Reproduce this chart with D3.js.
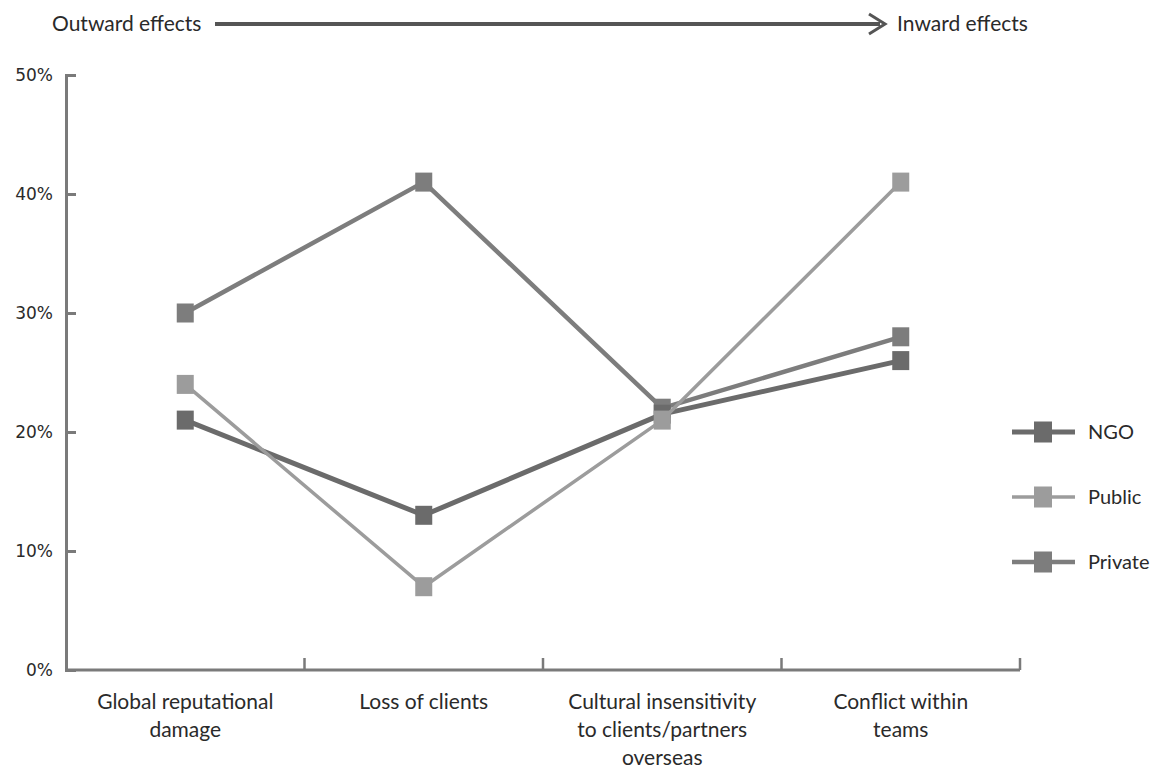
<!DOCTYPE html>
<html>
<head>
<meta charset="utf-8">
<script src="https://cdn.jsdelivr.net/npm/d3@7"></script>
<style>
  body { margin: 0; background: #fff; }
  svg { display: block; }
</style>
</head>
<body>
<div id="chart"></div>
<script>
const categories = [
  ["Global reputational", "damage"],
  ["Loss of clients"],
  ["Cultural insensitivity", "to clients/partners", "overseas"],
  ["Conflict within", "teams"],
];
const yTicks = [0, 10, 20, 30, 40, 50];
const ngoValues = [21, 13, 21.5, 26];
const publicValues = [24, 7, 21, 41];
const privateValues = [30, 41, 22, 28];

const seriesList = [
  { name: "NGO", values: ngoValues, color: "#6b6b6b", width: 5 },
  { name: "Public", values: publicValues, color: "#9c9c9c", width: 3.5 },
  { name: "Private", values: privateValues, color: "#7d7d7d", width: 4.5 },
];

const width = 1158, height = 768;
const textColor = "#2a2a2a";
const svg = d3.select("#chart").append("svg")
  .attr("width", width).attr("height", height);

const x = d3.scaleBand().domain(d3.range(categories.length)).range([66, 1020]);
const y = d3.scaleLinear().domain([0, 50]).range([670, 75]);

// axes
const axisColor = "#7a7a7a";
const yAxis = svg.append("g")
  .attr("transform", "translate(66,0)")
  .call(d3.axisLeft(y).tickValues(yTicks).tickSize(-10).tickPadding(24).tickFormat(d => d + "%"));
yAxis.select(".domain").attr("stroke", axisColor).attr("stroke-width", 3);
yAxis.selectAll(".tick line").attr("stroke", axisColor).attr("stroke-width", 3);
yAxis.selectAll(".tick text")
  .attr("font-family", "'DejaVu Sans', sans-serif").attr("font-size", 17)
  .attr("fill", textColor).attr("text-anchor", "end").attr("dx", 11);
yAxis.selectAll(".tick").filter(d => d === 0).select("line").remove();

const xAxis = svg.append("g")
  .attr("transform", "translate(0,670)");
xAxis.append("line")
  .attr("x1", x.range()[0]).attr("x2", x.range()[1])
  .attr("stroke", axisColor).attr("stroke-width", 3);
xAxis.selectAll("line.tick")
  .data(d3.range(1, categories.length + 1))
  .join("line")
  .attr("class", "tick")
  .attr("x1", i => x.range()[0] + i * x.bandwidth())
  .attr("x2", i => x.range()[0] + i * x.bandwidth())
  .attr("y1", -12).attr("y2", 0)
  .attr("stroke", axisColor).attr("stroke-width", 2.5);

const catText = xAxis.selectAll("text.cat")
  .data(categories)
  .join("text")
  .attr("class", "cat")
  .attr("x", (d, i) => x(i) + x.bandwidth() / 2)
  .attr("y", 39)
  .attr("text-anchor", "middle")
  .attr("font-family", "Lato, sans-serif")
  .attr("font-size", 21)
  .attr("fill", textColor);
catText.selectAll("tspan")
  .data(d => d)
  .join("tspan")
  .attr("x", function () { return this.parentNode.getAttribute("x"); })
  .attr("dy", (d, i) => i === 0 ? 0 : 28)
  .text(d => d);

// lines
const line = d3.line()
  .x((d, i) => x(i) + x.bandwidth() / 2)
  .y(d => y(d));

const seriesG = svg.append("g").attr("class", "series");
const drawOrder = [seriesList[2], seriesList[0], seriesList[1]];
drawOrder.forEach(s => {
  const g = seriesG.append("g");
  g.append("path")
    .attr("d", line(s.values))
    .attr("fill", "none")
    .attr("stroke", s.color)
    .attr("stroke-width", s.width)
    .attr("stroke-linejoin", "round");
  g.selectAll("rect")
    .data(s.values)
    .join("rect")
    .attr("x", (d, i) => x(i) + x.bandwidth() / 2 - 8.5)
    .attr("y", d => y(d) - 9.5)
    .attr("width", 17).attr("height", 19)
    .attr("fill", s.color);
});

// legend
const legend = svg.append("g").attr("transform", "translate(1012,432)");
seriesList.forEach((s, i) => {
  const g = legend.append("g").attr("transform", `translate(0,${i * 65})`);
  g.append("line").attr("x1", 0).attr("x2", 63).attr("y1", 0).attr("y2", 0)
    .attr("stroke", s.color).attr("stroke-width", s.width);
  g.append("rect").attr("x", 22).attr("y", -10.5).attr("width", 18).attr("height", 21)
    .attr("fill", s.color);
  g.append("text").attr("x", 76).attr("y", 7)
    .attr("font-family", "Lato, sans-serif").attr("font-size", 20)
    .attr("fill", textColor).text(s.name);
});

// top arrow
const headerG = svg.append("g");
headerG.append("text").attr("x", 52).attr("y", 31)
  .attr("font-family", "Lato, sans-serif").attr("font-size", 21)
  .attr("fill", textColor).text("Outward effects");
headerG.append("line").attr("x1", 215).attr("x2", 880).attr("y1", 24).attr("y2", 24)
  .attr("stroke", "#555").attr("stroke-width", 4);
headerG.append("path").attr("d", "M869,14 L885,24 L869,34")
  .attr("fill", "none").attr("stroke", "#555").attr("stroke-width", 3);
headerG.append("text").attr("x", 897).attr("y", 31)
  .attr("font-family", "Lato, sans-serif").attr("font-size", 21)
  .attr("fill", textColor).text("Inward effects");
</script>
</body>
</html>
